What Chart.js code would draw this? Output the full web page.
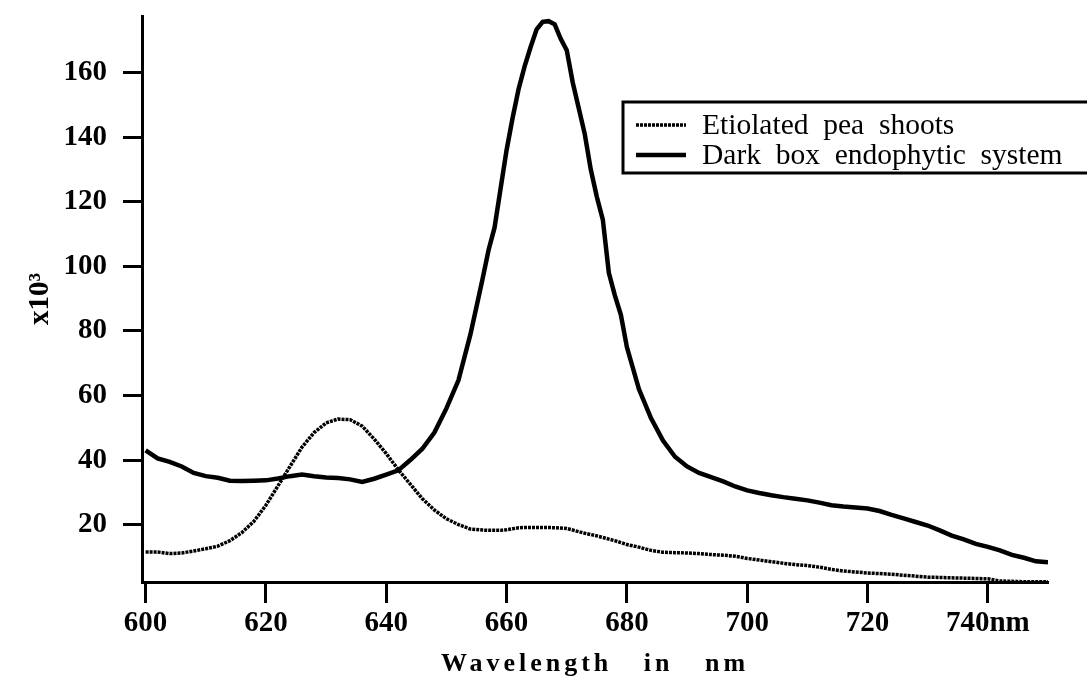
<!DOCTYPE html>
<html>
<head>
<meta charset="utf-8">
<script src="https://cdn.jsdelivr.net/npm/chart.js@4"></script>
<style>
    body { margin: 0; background: #fff; }
</style>
</head>
<body>
<canvas id="myChart" width="1087" height="678"></canvas>
<script>
// wavelengths in nm (2 nm steps, 1 nm round the peak)
const wavelengths = [
    600, 602, 604, 606, 608, 610, 612, 614, 616, 618, 620, 622, 624, 626, 628, 630,
    632, 634, 636, 638, 640, 642, 644, 646, 648, 650, 652, 654,
    656, 657, 658, 659, 660, 661, 662, 663, 664, 665, 666, 667, 668, 669, 670,
    671, 672, 673, 674, 675, 676, 677, 678, 679, 680,
    682, 684, 686, 688, 690, 692, 694, 696, 698, 700, 702, 704, 706, 708, 710,
    712, 714, 716, 718, 720, 722, 724, 726, 728, 730, 732, 734, 736, 738, 740,
    742, 744, 746, 748, 750
];

const etiolated = [
    11.5, 11.5, 11.0, 11.2, 11.8, 12.5, 13.3, 15.0, 17.5, 21.0, 26.0, 32.0, 38.0, 44.0, 48.5, 51.5,
    52.7, 52.5, 50.5, 46.5, 42.0, 37.0, 32.5, 28.0, 24.5, 21.8, 20.0, 18.6,
    18.3, 18.2, 18.2, 18.2, 18.4, 18.7, 19.0, 19.1, 19.1, 19.1, 19.1, 19.1, 19.0, 18.9, 18.8,
    18.3, 17.8, 17.3, 16.9, 16.5, 16.0, 15.5, 15.0, 14.4, 13.8,
    13.0, 12.0, 11.4, 11.3, 11.2, 11.0, 10.7, 10.5, 10.2, 9.5, 9.0, 8.5, 8.0, 7.6, 7.3,
    6.8, 6.1, 5.6, 5.3, 5.0, 4.8, 4.6, 4.3, 4.0, 3.7, 3.6, 3.5, 3.4, 3.3, 3.2,
    2.5, 2.4, 2.3, 2.3, 2.3
];

const darkBox = [
    43.0, 40.5, 39.4, 38.0, 36.0, 35.0, 34.5, 33.6, 33.5, 33.6, 33.7, 34.3, 35.0, 35.5, 35.0, 34.6,
    34.4, 34.0, 33.2, 34.2, 35.5, 36.8, 40.0, 43.5, 48.5, 56.0, 64.7, 79.0,
    96.0, 105.0, 112.0, 124.0, 136.0, 146.0, 155.0, 162.0, 168.0, 173.5, 175.8, 176.0, 175.0, 170.5, 167.0,
    157.0, 149.0, 141.0, 130.0, 121.6, 114.5, 98.0, 91.0, 85.0, 75.0,
    62.0, 53.0, 46.0, 41.0, 38.0, 36.0, 34.7, 33.4, 31.8, 30.6, 29.8, 29.1, 28.5, 28.0, 27.5,
    26.8, 26.0, 25.6, 25.3, 25.0, 24.2, 23.0, 21.9, 20.8, 19.7, 18.2, 16.6, 15.4, 14.0, 13.1,
    12.0, 10.6, 9.7, 8.6, 8.3
];

const xTicks = [600, 620, 640, 660, 680, 700, 720, 740];
const yTicks = [20, 40, 60, 80, 100, 120, 140, 160];
const seriesLabels = ['Etiolated  pea  shoots', 'Dark  box  endophytic  system'];
const xTitle = 'Wavelength   in   nm';

const serif = 'Liberation Serif, Times New Roman, serif';

function toPoints(values) {
    return values.map((v, i) => ({x: wavelengths[i], y: v}));
}

//Legend box drawn inside the plot, cut by the right edge like the scan
//x title drawn here too, because it is letter-spaced
const boxLegend = {
    id: 'boxLegend',
    afterDraw(chart) {
        const ctx = chart.ctx;
        ctx.save();
        ctx.strokeStyle = '#000';
        ctx.fillStyle = '#000';
        ctx.lineWidth = 3;
        ctx.strokeRect(623, 102, 480, 71);
        ctx.font = '29.5px ' + serif;
        ctx.textBaseline = 'middle';
        chart.data.datasets.forEach((ds, i) => {
            let y = 125 + i * 30;
            ctx.beginPath();
            ctx.lineWidth = ds.borderWidth;
            ctx.setLineDash(ds.borderDash || []);
            ctx.moveTo(636, y);
            ctx.lineTo(686, y);
            ctx.stroke();
            ctx.setLineDash([]);
            ctx.fillText(ds.label, 702, y + 1);
        });

        let area = chart.chartArea;
        ctx.font = 'bold 26px ' + serif;
        ctx.letterSpacing = '4px';
        ctx.textAlign = 'center';
        ctx.fillText(xTitle, (area.left + area.right) / 2, 664);
        ctx.restore();
    }
};

let ctx = document.getElementById('myChart');
new Chart(ctx, {
    type: 'line',
    data: {
        datasets: [{
            label: seriesLabels[0],
            data: toPoints(etiolated),
            borderColor: '#000',
            borderWidth: 3.5,
            borderDash: [3, 1],
            pointRadius: 0,
            tension: 0
        }, {
            label: seriesLabels[1],
            data: toPoints(darkBox),
            borderColor: '#000',
            borderWidth: 4.5,
            pointRadius: 0,
            tension: 0
        }]
    },
    options: {
        responsive: false,
        animation: false,
        devicePixelRatio: 1,
        layout: {padding: {left: 0, right: 39, top: 16, bottom: 0}},
        plugins: {
            legend: {display: false},
            tooltip: {enabled: false}
        },
        scales: {
            x: {
                type: 'linear',
                min: 599.4,
                max: 750,
                afterBuildTicks: (s) => { s.ticks = xTicks.map(v => ({value: v})); },
                afterFit: (s) => { s.height = 96; s.paddingLeft = 0; s.paddingRight = 0; },
                grid: {drawOnChartArea: false, tickLength: 21, tickWidth: 3, tickColor: '#000'},
                border: {display: true, color: '#000', width: 3},
                ticks: {
                    color: '#000',
                    padding: 3,
                    maxRotation: 0,
                    font: {family: serif, size: 29, weight: 'bold'},
                    callback: (v) => v === 740 ? '740nm' : String(v)
                },
                title: {display: false}
            },
            y: {
                min: 2.2,
                max: 177.6,
                afterBuildTicks: (s) => { s.ticks = yTicks.map(v => ({value: v})); },
                afterFit: (s) => { s.width = 142; s.paddingTop = 0; s.paddingBottom = 0; },
                grid: {drawOnChartArea: false, tickLength: 19, tickWidth: 3, tickColor: '#000'},
                border: {display: true, color: '#000', width: 3},
                ticks: {
                    color: '#000',
                    padding: 16,
                    font: {family: serif, size: 29, weight: 'bold'}
                },
                title: {
                    display: true,
                    text: 'x10³',
                    color: '#000',
                    padding: {top: 23, bottom: 0},
                    font: {family: serif, size: 29, weight: 'bold'}
                }
            }
        }
    },
    plugins: [boxLegend]
});
</script>
</body>
</html>
